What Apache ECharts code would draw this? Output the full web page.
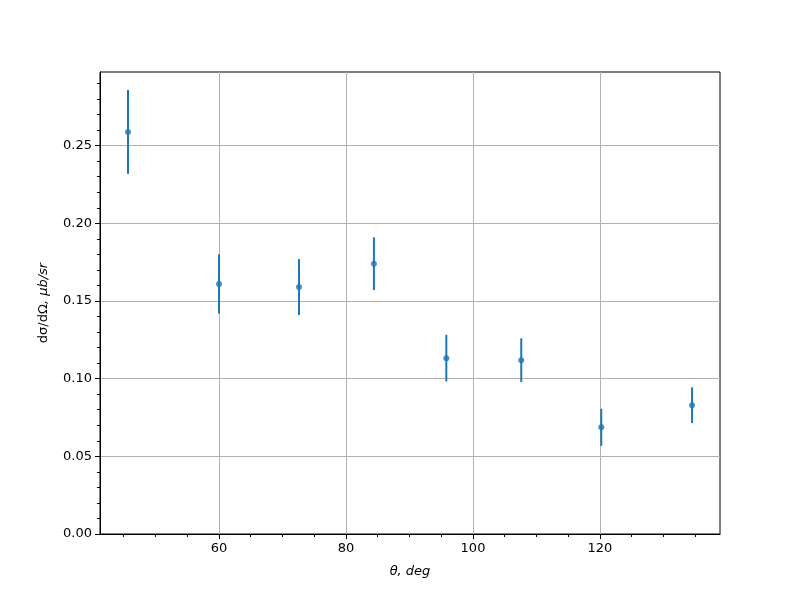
<!DOCTYPE html>
<html>
<head>
<meta charset="utf-8">
<script src="https://cdn.jsdelivr.net/npm/echarts@6/dist/echarts.min.js"></script>
<style>html,body{margin:0;padding:0;background:#fff;}#c{width:800px;height:600px;}</style>
</head>
<body>
<div id="c"></div>
<script>
var theta = [45.67, 60.0, 72.6, 84.4, 95.8, 107.6, 120.2, 134.5];
var sigma = [0.2588, 0.161, 0.159, 0.174, 0.1132, 0.1119, 0.0687, 0.0829];
var err = [0.0270, 0.019, 0.018, 0.017, 0.0150, 0.0141, 0.0119, 0.0115];
var xMajor = [60, 80, 100, 120];
var xMinor = [45, 50, 55, 65, 70, 75, 85, 90, 95, 105, 110, 115, 125, 130, 135];
var yMajor = [0, 0.05, 0.10, 0.15, 0.20, 0.25];
var yMinor = [0.01, 0.02, 0.03, 0.04, 0.06, 0.07, 0.08, 0.09, 0.11, 0.12, 0.13, 0.14, 0.16, 0.17, 0.18, 0.19, 0.21, 0.22, 0.23, 0.24, 0.26, 0.27, 0.28, 0.29];
var xMin = 41.26, xMax = 138.9, yMin = 0, yMax = 0.2974;

var font = 'DejaVu Sans';
var chart = echarts.init(document.getElementById('c'), null, {renderer: 'canvas'});
var barData = theta.map(function (t, i) { return [t, sigma[i] - err[i], sigma[i] + err[i]]; });
var ptData = theta.map(function (t, i) { return [t, sigma[i]]; });

chart.setOption({
  animation: false,
  backgroundColor: '#fff',
  grid: {left: 100, top: 72, width: 620, height: 462, show: true, borderColor: '#000', borderWidth: 1, backgroundColor: 'transparent'},
  xAxis: [{
    type: 'value', min: xMin, max: xMax, position: 'bottom',
    name: '{i|θ, deg}', nameLocation: 'middle', nameGap: 31,
    nameTextStyle: {rich: {i: {fontFamily: font, fontSize: 13, fontStyle: 'italic', color: '#000'}}},
    axisLine: {show: true, lineStyle: {color: '#000', width: 1}},
    axisTick: {show: true, length: 5, inside: false, customValues: xMajor, lineStyle: {color: '#000', width: 1}},
    axisLabel: {show: true, customValues: xMajor, color: '#000', fontFamily: font, fontSize: 13, margin: 8},
    splitLine: {show: true, lineStyle: {color: '#b0b0b0', width: 1}}
  }, {
    type: 'value', min: xMin, max: xMax, position: 'bottom', gridIndex: 0,
    axisLine: {show: false},
    axisTick: {show: true, length: 3, customValues: xMinor, lineStyle: {color: '#000', width: 1}},
    axisLabel: {show: false},
    splitLine: {show: false}
  }],
  yAxis: [{
    type: 'value', min: yMin, max: yMax, position: 'left',
    name: '{u|dσ/dΩ}{i|, μb/sr}', nameLocation: 'middle', nameGap: 50, nameRotate: 90,
    nameTextStyle: {rich: {
      u: {fontFamily: font, fontSize: 13, color: '#000'},
      i: {fontFamily: font, fontSize: 13, fontStyle: 'italic', color: '#000'}
    }},
    axisLine: {show: true, lineStyle: {color: '#000', width: 1}},
    axisTick: {show: true, length: 5, customValues: yMajor, lineStyle: {color: '#000', width: 1}},
    axisLabel: {show: true, customValues: yMajor, color: '#000', fontFamily: font, fontSize: 13, margin: 8,
      formatter: function (v) { return v.toFixed(2); }},
    splitLine: {show: true, lineStyle: {color: '#b0b0b0', width: 1}}
  }, {
    type: 'value', min: yMin, max: yMax, position: 'left', gridIndex: 0,
    axisLine: {show: false},
    axisTick: {show: true, length: 3, customValues: yMinor, lineStyle: {color: '#000', width: 1}},
    axisLabel: {show: false},
    splitLine: {show: false}
  }],
  series: [{
    type: 'custom', xAxisIndex: 0, yAxisIndex: 0,
    data: barData,
    encode: {x: 0, y: [1, 2]},
    renderItem: function (params, api) {
      var x = api.value(0), lo = api.value(1), hi = api.value(2);
      var p1 = api.coord([x, lo]), p2 = api.coord([x, hi]);
      return {type: 'line', shape: {x1: p1[0], y1: p1[1], x2: p2[0], y2: p2[1]},
        style: {stroke: '#1f77b4', lineWidth: 2}};
    },
    z: 3
  }, {
    type: 'scatter', xAxisIndex: 0, yAxisIndex: 0,
    data: ptData, symbol: 'circle', symbolSize: 6,
    itemStyle: {color: '#1f77b4'}, z: 4
  }]
});
</script>
</body>
</html>
